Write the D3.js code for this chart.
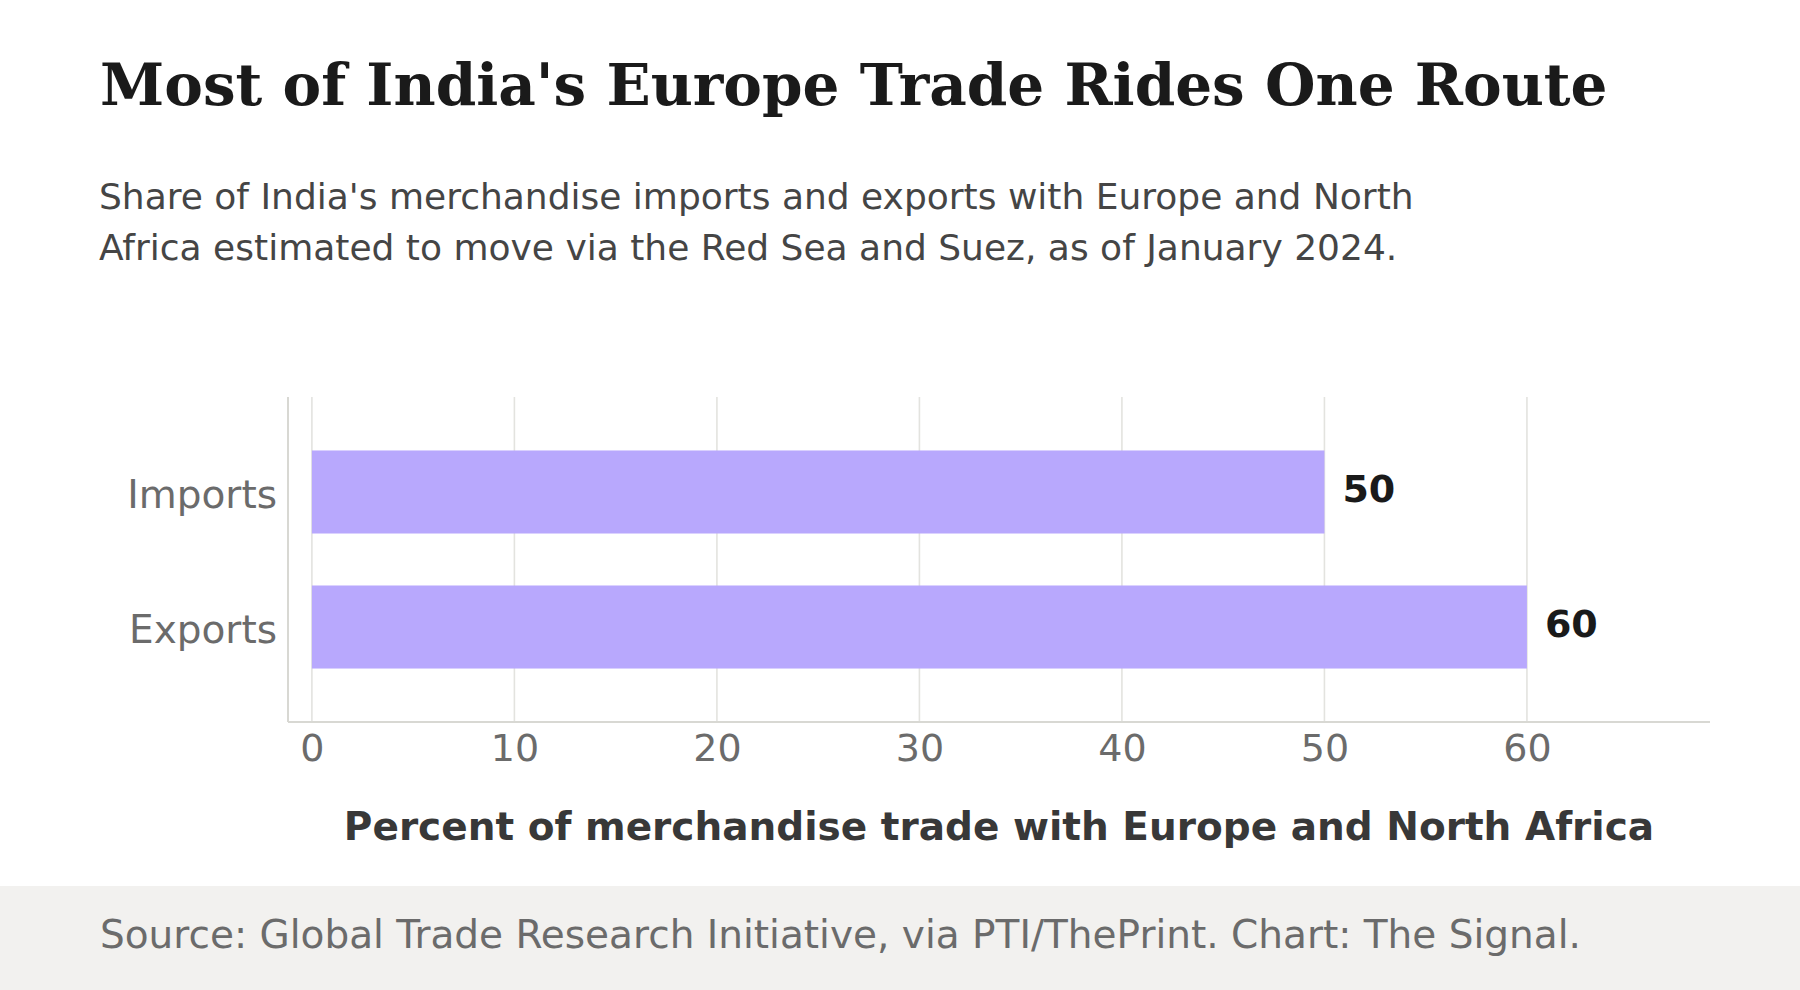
<!DOCTYPE html>
<html>
<head>
<meta charset="utf-8">
<script src="https://cdn.jsdelivr.net/npm/d3@7"></script>
<style>
  html, body { margin: 0; padding: 0; background: #ffffff; }
  svg { display: block; }
</style>
</head>
<body>
<div id="chart"></div>
<script>
// data
var categories = ["Imports", "Exports"];
var values = [50, 60];
var xTicks = [0, 10, 20, 30, 40, 50, 60];

var titleText = "Most of India's Europe Trade Rides One Route";
var subtitleLines = [
    "Share of India's merchandise imports and exports with Europe and North",
    "Africa estimated to move via the Red Sea and Suez, as of January 2024."
];
var xAxisLabel = "Percent of merchandise trade with Europe and North Africa";
var sourceText = "Source: Global Trade Research Initiative, via PTI/ThePrint. Chart: The Signal.";

var W = 1800, H = 990;
var plot = { left: 288, right: 1710, top: 397, bottom: 722 };

var svg = d3.select("#chart")
    .append("svg")
    .attr("width", W)
    .attr("height", H);

svg.append("rect")
    .attr("width", W)
    .attr("height", H)
    .attr("fill", "#ffffff");

// title + subtitle
svg.append("text")
    .attr("x", 100)
    .attr("y", 105)
    .attr("font-family", "DejaVu Serif")
    .attr("font-weight", "bold")
    .attr("font-size", 58)
    .attr("fill", "#1a1a1a")
    .text(titleText);

svg.selectAll(".subtitle")
    .data(subtitleLines)
    .enter()
    .append("text")
    .attr("class", "subtitle")
    .attr("x", 99)
    .attr("y", function (d, i) { return 209 + i * 51; })
    .attr("font-family", "DejaVu Sans")
    .attr("font-size", 36)
    .attr("fill", "#454545")
    .text(function (d) { return d; });

// scales
var x = d3.scaleLinear()
    .domain([-1.18, 69.04])
    .range([plot.left, plot.right]);

var y = d3.scaleBand()
    .domain(categories)
    .range([plot.top, plot.bottom])
    .paddingInner(0.385)
    .paddingOuter(0.396);

// gridlines
svg.append("g")
    .selectAll("line")
    .data(xTicks)
    .enter()
    .append("line")
    .attr("x1", function (d) { return x(d); })
    .attr("x2", function (d) { return x(d); })
    .attr("y1", plot.top)
    .attr("y2", plot.bottom)
    .attr("stroke", "#e3e3df")
    .attr("stroke-width", 1.6);

// bars
svg.append("g")
    .selectAll("rect")
    .data(categories)
    .enter()
    .append("rect")
    .attr("x", x(0))
    .attr("y", function (d) { return y(d); })
    .attr("width", function (d, i) { return x(values[i]) - x(0); })
    .attr("height", y.bandwidth())
    .attr("fill", "#b8a8fd");

// value labels
svg.append("g")
    .selectAll("text")
    .data(categories)
    .enter()
    .append("text")
    .attr("x", function (d, i) { return x(values[i]) + 18; })
    .attr("y", function (d) { return y(d) + y.bandwidth() / 2 + 10; })
    .attr("font-family", "DejaVu Sans")
    .attr("font-weight", "bold")
    .attr("font-size", 38)
    .attr("fill", "#1a1a1a")
    .text(function (d, i) { return values[i]; });

// axes
var xAxis = d3.axisBottom(x)
    .tickValues(xTicks)
    .tickSize(0)
    .tickPadding(12);

var gx = svg.append("g")
    .attr("transform", "translate(0," + plot.bottom + ")")
    .call(xAxis);
gx.select(".domain").remove();
gx.selectAll("text")
    .attr("font-family", "DejaVu Sans")
    .attr("font-size", 38)
    .attr("fill", "#6b6b6b")
    .attr("dy", "0.71em");

var yAxis = d3.axisLeft(y)
    .tickSize(0)
    .tickPadding(11);

var gy = svg.append("g")
    .attr("transform", "translate(" + plot.left + ",0)")
    .call(yAxis);
gy.select(".domain").remove();
gy.selectAll("text")
    .attr("font-family", "DejaVu Sans")
    .attr("font-size", 39)
    .attr("fill", "#6b6b6b")
    .attr("dy", "0.42em");

// spines (left + bottom)
svg.append("line")
    .attr("x1", plot.left).attr("x2", plot.left)
    .attr("y1", plot.top).attr("y2", plot.bottom)
    .attr("stroke", "#d8d8d3")
    .attr("stroke-width", 2);
svg.append("line")
    .attr("x1", plot.left).attr("x2", plot.right)
    .attr("y1", plot.bottom).attr("y2", plot.bottom)
    .attr("stroke", "#d8d8d3")
    .attr("stroke-width", 2);

// x axis title
svg.append("text")
    .attr("x", (plot.left + plot.right) / 2)
    .attr("y", 840)
    .attr("text-anchor", "middle")
    .attr("font-family", "DejaVu Sans")
    .attr("font-weight", "bold")
    .attr("font-size", 39)
    .attr("fill", "#383838")
    .text(xAxisLabel);

// footer band
svg.append("rect")
    .attr("x", 0)
    .attr("y", 886)
    .attr("width", W)
    .attr("height", H - 886)
    .attr("fill", "#f2f1ef");

svg.append("text")
    .attr("x", 100)
    .attr("y", 948)
    .attr("font-family", "DejaVu Sans")
    .attr("font-size", 39)
    .attr("fill", "#6b6b6b")
    .text(sourceText);
</script>
</body>
</html>
